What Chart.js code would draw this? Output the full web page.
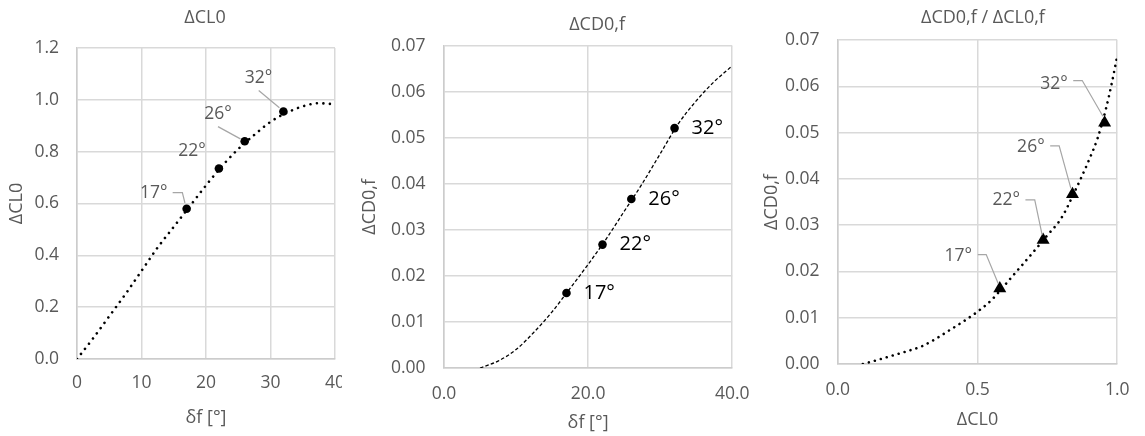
<!DOCTYPE html>
<html><head><meta charset="utf-8">
<script src="https://cdn.jsdelivr.net/npm/chart.js@4.4.1/dist/chart.umd.min.js"></script>
<style>
html,body{margin:0;padding:0;background:#fff;overflow:hidden;width:1145px;height:436px;}
.wrap{position:absolute;top:0;height:436px;overflow:hidden;}
canvas{position:absolute;top:0;left:0;}
</style></head><body>
<div class="wrap" style="left:0;width:342px"><canvas id="c1" width="370" height="436"></canvas></div>
<div class="wrap" style="left:342px;width:423px"><canvas id="c2" width="423" height="436"></canvas></div>
<div class="wrap" style="left:750px;width:395px"><canvas id="c3" width="395" height="436"></canvas></div>
<script>
// ---- data ----
const deflection = [17, 22, 26, 32];
const deltaCL0 = [0.58, 0.735, 0.84, 0.955];
const deltaCD0f = [0.0163, 0.0268, 0.0367, 0.0521];
const pointLabels = ['17°', '22°', '26°', '32°'];

const trendCLx = [0, 2.5, 5, 7.5, 10, 12.5, 15, 17.5, 20, 22.5, 25, 27.5, 30, 32.5, 35, 37.5, 40];
const trendCLy = [0, 0.08, 0.165, 0.25, 0.34, 0.43, 0.51, 0.59, 0.67, 0.745, 0.81, 0.865, 0.915, 0.95, 0.975, 0.987, 0.983];

const trendCDx = [5, 7.5, 10, 12.5, 15, 17.5, 20, 22.5, 25, 27.5, 30, 32.5, 35, 37.5, 40];
const trendCDy = [0, 0.0015, 0.0040, 0.0078, 0.0122, 0.0173, 0.0225, 0.0280, 0.0340, 0.0400, 0.0465, 0.0530, 0.0580, 0.0622, 0.0656];

const trendPolarX = [0.09, 0.15, 0.2, 0.25, 0.3, 0.35, 0.4, 0.45, 0.5, 0.55, 0.6, 0.65, 0.7, 0.75, 0.8, 0.85, 0.9, 0.93, 0.96, 0.98, 1.0];
const trendPolarY = [0, 0.0010, 0.0019, 0.0028, 0.0038, 0.0054, 0.0073, 0.0092, 0.0113, 0.0138, 0.0172, 0.0207, 0.0242, 0.0278, 0.0315, 0.0375, 0.0442, 0.0488, 0.0552, 0.0605, 0.0665];

const xTicks1 = {min: 0, max: 40, step: 10};
const yTicks1 = {min: 0, max: 1.2, step: 0.2};
const xTicks2 = {min: 0, max: 40, step: 20};
const yTicks2 = {min: 0, max: 0.07, step: 0.01};
const xTicks3 = {min: 0, max: 1, step: 0.5};
const yTicks3 = {min: 0, max: 0.07, step: 0.01};

// ---- styling ----
const FONT = '"Open Sans", "Noto Sans", sans-serif';
const TXT = '#595959';
const GRID = '#d9d9d9';
const AXIS = '#cccccc';
const TICK_SIZE = 17.5;
const TITLE_SIZE = 18;

const pts = (xs, ys) => xs.map((x, i) => ({x, y: ys[i]}));

const titlePlugin = {
  id: 'panelTitle',
  afterDraw(chart, args, o) {
    const ctx = chart.ctx, a = chart.chartArea;
    ctx.save();
    ctx.font = o.size + 'px ' + FONT;
    ctx.fillStyle = TXT;
    ctx.textAlign = 'center';
    ctx.textBaseline = 'middle';
    ctx.fillText(o.text, (a.left + a.right) / 2 + o.dx, o.y);
    ctx.restore();
  }
};

const labelPlugin = {
  id: 'ptLabels',
  afterDatasetsDraw(chart, args, o) {
    const ctx = chart.ctx;
    const meta = chart.getDatasetMeta(0);
    ctx.save();
    ctx.font = o.size + 'px ' + FONT;
    ctx.fillStyle = o.color;
    ctx.textAlign = o.align;
    ctx.textBaseline = 'middle';
    ctx.strokeStyle = '#a6a6a6';
    ctx.lineWidth = 1.2;
    meta.data.forEach((p, i) => {
      const L = o.layout[i];
      if (L.leader) {
        ctx.beginPath();
        L.leader.forEach(([dx, dy], j) => j ? ctx.lineTo(p.x + dx, p.y + dy) : ctx.moveTo(p.x + dx, p.y + dy));
        ctx.stroke();
      }
      ctx.fillText(o.labels[i], p.x + L.dx, p.y + L.dy);
    });
    ctx.restore();
  }
};

function xAxis(t, dec, pad, title, tpb, height) {
  return {
    type: 'linear', min: t.min, max: t.max,
    ticks: {stepSize: t.step, padding: pad, color: TXT, font: {family: FONT, size: TICK_SIZE}, maxRotation: 0, autoSkip: false,
      callback: v => Number(v).toFixed(dec)},
    grid: {color: GRID, lineWidth: 1.5, drawTicks: false},
    border: {color: AXIS, width: 1.5},
    title: {display: true, text: title, color: TXT, font: {family: FONT, size: TITLE_SIZE}, padding: {top: 0, bottom: tpb}},
    afterFit: s => { s.height = height; }
  };
}
function yAxis(t, dec, pad, title, tpt, width) {
  return {
    type: 'linear', min: t.min, max: t.max,
    ticks: {stepSize: t.step, padding: pad, color: TXT, font: {family: FONT, size: TICK_SIZE}, autoSkip: false,
      callback: v => Number(v).toFixed(dec)},
    grid: {color: GRID, lineWidth: 1.5, drawTicks: false},
    border: {color: AXIS, width: 1.5},
    title: {display: true, text: title, color: TXT, font: {family: FONT, size: TITLE_SIZE}, padding: {top: tpt, bottom: 0}},
    afterFit: s => { s.width = width; }
  };
}

function make(id, cfg) {
  return new Chart(document.getElementById(id), {
    type: 'scatter',
    data: {datasets: [
      {data: cfg.points, pointStyle: cfg.marker, pointRadius: cfg.radius, pointBackgroundColor: '#000', pointBorderColor: '#000', borderWidth: 0, showLine: false},
      {data: cfg.trend, showLine: true, pointRadius: 0, borderColor: '#000', borderWidth: cfg.lw, borderDash: cfg.dash,
       borderCapStyle: cfg.cap, cubicInterpolationMode: 'monotone', fill: false}
    ]},
    options: {
      responsive: false, animation: false, devicePixelRatio: 1,
      layout: {padding: cfg.padding},
      scales: {x: cfg.x, y: cfg.y},
      plugins: {legend: {display: false}, tooltip: {enabled: false}, title: {display: false},
        panelTitle: cfg.title, ptLabels: cfg.labels}
    },
    plugins: [titlePlugin, labelPlugin]
  });
}

// Panel 1: ΔCL0 vs δf
make('c1', {
  points: pts(deflection, deltaCL0), marker: 'circle', radius: 4.3,
  trend: pts(trendCLx, trendCLy), lw: 2.6, dash: [0.001, 6.5], cap: 'round',
  padding: {top: 48, right: 35, bottom: 0, left: 0},
  x: xAxis(xTicks1, 0, 13.5, 'δf [°]', 7.5, 77),
  y: yAxis(yTicks1, 1, 18, 'ΔCL0', 6.2, 77),
  title: {text: 'ΔCL0', dx: -1, y: 17.5, size: TITLE_SIZE},
  labels: {labels: pointLabels, size: TICK_SIZE, color: TXT, align: 'center', layout: [
    {dx: -33, dy: -15.7, leader: [[-14, -16], [-4.3, -16], [-1.7, -5.7]]},
    {dx: -27, dy: -17},
    {dx: -26.7, dy: -27.4, leader: [[-26.7, -14.7], [-4.3, -2.4]]},
    {dx: -25, dy: -33.3, leader: [[-24.7, -21], [-4, -3.7]]}
  ]}
});

// Panel 2: ΔCD0,f vs δf
make('c2', {
  points: pts(deflection, deltaCD0f), marker: 'circle', radius: 4.3,
  trend: pts(trendCDx, trendCDy), lw: 1.3, dash: [3.5, 2.2], cap: 'butt',
  padding: {top: 45.7, right: 423 - 393.3, bottom: 0, left: 0},
  x: xAxis(xTicks2, 1, 15.5, 'δf [°]', 2.5, 68),
  y: yAxis(yTicks2, 2, 18.5, 'ΔCD0,f', 17.2, 102),
  title: {text: 'ΔCD0,f', dx: 9, y: 25, size: TITLE_SIZE},
  labels: {labels: pointLabels, size: 20, color: '#000', align: 'left', layout: [
    {dx: 17, dy: 0}, {dx: 17, dy: 0}, {dx: 17, dy: 0}, {dx: 17, dy: 0}
  ]}
});

// Panel 3: ΔCD0,f vs ΔCL0
make('c3', {
  points: pts(deltaCL0, deltaCD0f), marker: 'triangle', radius: 7.5,
  trend: pts(trendPolarX, trendPolarY), lw: 2.6, dash: [0.001, 6.2], cap: 'round',
  padding: {top: 40, right: 395 - 373.3, bottom: 0, left: 0},
  x: xAxis(xTicks3, 1, 15.5, 'ΔCL0', 5.5, 72),
  y: yAxis(yTicks3, 2, 18.2, 'ΔCD0,f', 11.2, 87.7),
  title: {text: 'ΔCD0,f / ΔCL0,f', dx: 5.5, y: 18, size: TITLE_SIZE},
  labels: {labels: pointLabels, size: TICK_SIZE, color: TXT, align: 'center', layout: [
    {dx: -41.6, dy: -32.3, leader: [[-22, -34], [-13.6, -34], [-1.6, -5]]},
    {dx: -37, dy: -40, leader: [[-17.7, -40], [-8.4, -40], [-1, -5]]},
    {dx: -41.6, dy: -47.3, leader: [[-22.3, -48.3], [-13.3, -48.3], [-1.6, -5.7]]},
    {dx: -50.7, dy: -39.3, leader: [[-31.4, -42.3], [-22.4, -42.3], [-1.7, -6.6]]}
  ]}
});
</script>
</body></html>
